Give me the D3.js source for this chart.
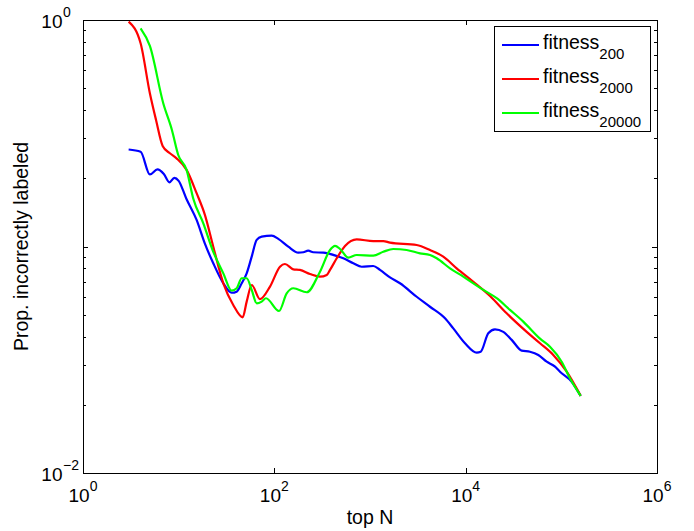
<!DOCTYPE html>
<html>
<head>
<meta charset="utf-8">
<script src="https://cdn.jsdelivr.net/npm/d3@7"></script>
<style>
body { margin: 0; background: #fff; }
svg { display: block; font-family: "Liberation Sans", Arial, sans-serif; }
</style>
</head>
<body>
<div id="chart"></div>
<script>
// top N vs proportion incorrectly labeled, three fitness runs
var fitness200 = [[3,0.268],[4,0.262],[5,0.208],[6,0.219],[7,0.209],[8,0.192],[9,0.201],[10,0.195],[12,0.163],[15.4,0.131],[18.8,0.103],[23,0.0843],[29.3,0.0688],[35.8,0.0625],[40.4,0.0632],[45.6,0.0688],[51.4,0.0761],[58,0.0902],[65.4,0.1069],[73.8,0.1105],[93.8,0.1116],[110,0.108],[140,0.0998],[178,0.0939],[201,0.0943],[226,0.0958],[255,0.0943],[325,0.0939],[449,0.0908],[526,0.0887],[669,0.0843],[819,0.0814],[1082,0.082],[1271,0.0788],[1618,0.0731],[2058,0.0688],[3076,0.060],[4236,0.0542],[6083,0.0482],[7427,0.0435],[9840,0.0374],[13040,0.034],[14350,0.0343],[17230,0.0414],[20260,0.0431],[24730,0.042],[30270,0.0387],[38500,0.0347],[47000,0.0343],[57450,0.0332],[70300,0.031],[85900,0.0295],[96800,0.028],[128300,0.0253],[159300,0.0219]];

var fitness2000 = [[3,0.983],[4,0.789],[5,0.475],[5.8,0.362],[6.8,0.278],[8.1,0.258],[9.5,0.245],[12.1,0.218],[15.4,0.172],[18.8,0.138],[23,0.0998],[29.3,0.0688],[37.2,0.0552],[46.7,0.0487],[51.4,0.0571],[58,0.0676],[70.8,0.0586],[90.1,0.0665],[114.6,0.0814],[129,0.0837],[158,0.0793],[185,0.0788],[236,0.0756],[300,0.0736],[353,0.0749],[382,0.0788],[449,0.0887],[548,0.1005],[726,0.1075],[1082,0.1057],[1377,0.1057],[1618,0.104],[3076,0.1015],[4236,0.0965],[5838,0.0902],[8053,0.0801],[12020,0.0699],[17960,0.0605],[26840,0.0507],[43450,0.042],[59840,0.0374],[82400,0.0332],[113800,0.028],[159300,0.0219]];

var fitness20000 = [[4,0.919],[5,0.768],[6.9,0.429],[8.5,0.327],[9.9,0.2535],[12.1,0.218],[14.2,0.163],[18.1,0.1266],[23,0.0948],[29.3,0.0761],[35.8,0.0638],[40.4,0.0654],[45.6,0.0724],[51.4,0.0724],[58,0.0643],[65.4,0.0561],[73.8,0.0571],[81.8,0.0591],[111.9,0.0519],[134.6,0.0621],[158,0.0654],[218,0.0628],[300,0.0774],[382,0.0965],[431,0.1007],[486,0.0975],[593,0.0893],[726,0.0917],[1082,0.0911],[1377,0.0948],[1752,0.0975],[2418,0.0965],[3331,0.0933],[4236,0.0917],[4980,0.0887],[6858,0.0801],[9440,0.0736],[15290,0.0643],[21100,0.0591],[29050,0.0525],[40000,0.0466],[59840,0.0392],[76100,0.0361],[100800,0.031],[123000,0.0262],[159300,0.0219]];

var seriesNames = ["200", "2000", "20000"];
var seriesColors = ["#0000ff", "#ff0000", "#00ff00"];
var xTickExp = [0, 2, 4, 6];
var yTickExp = [0, -2];

var width = 694, height = 531;
var plotLeft = 83, plotRight = 657, plotTop = 20, plotBottom = 473;

var svg = d3.select("#chart").append("svg")
	.attr("width", width)
	.attr("height", height);

var x = d3.scaleLog().domain([1, 1e6]).range([plotLeft, plotRight]);
var y = d3.scaleLog().domain([0.01, 1]).range([plotBottom, plotTop]);

svg.append("defs").append("clipPath").attr("id", "clip")
	.append("rect")
	.attr("x", plotLeft).attr("y", plotTop)
	.attr("width", plotRight - plotLeft).attr("height", plotBottom - plotTop);

//ticks, inside the box on all four sides
var ticks = svg.append("g").attr("stroke", "#000").attr("stroke-width", 1);
var xMajor = [1e2, 1e4];
xMajor.forEach(function(v) {
	var px = Math.round(x(v)) + 0.5;
	ticks.append("line").attr("x1", px).attr("x2", px).attr("y1", plotBottom).attr("y2", plotBottom - 5);
	ticks.append("line").attr("x1", px).attr("x2", px).attr("y1", plotTop).attr("y2", plotTop + 5);
});
var yTicks = [];
[0.01, 0.1].forEach(function(d) {
	for (var k = 1; k <= 9; k++) yTicks.push({v: d * k, major: k === 1});
});
yTicks.forEach(function(t) {
	if (t.v <= 0.01) return;
	var py = Math.round(y(t.v)) + 0.5;
	var len = t.major ? 5 : 3;
	ticks.append("line").attr("x1", plotLeft).attr("x2", plotLeft + len).attr("y1", py).attr("y2", py);
	ticks.append("line").attr("x1", plotRight).attr("x2", plotRight - len).attr("y1", py).attr("y2", py);
});

//box
svg.append("rect")
	.attr("x", plotLeft + 0.5).attr("y", plotTop + 0.5)
	.attr("width", plotRight - plotLeft).attr("height", plotBottom - plotTop)
	.attr("fill", "none")
	.attr("stroke", "#000")
	.attr("stroke-width", 1);

//lines
var line = d3.line()
	.x(function(d) { return x(d[0]); })
	.y(function(d) { return y(d[1]); })
	.curve(d3.curveMonotoneX);

var allSeries = [fitness200, fitness2000, fitness20000];
svg.append("g").attr("clip-path", "url(#clip)")
	.selectAll("path")
	.data(allSeries)
	.enter().append("path")
	.attr("d", line)
	.attr("fill", "none")
	.attr("stroke", function(d, i) { return seriesColors[i]; })
	.attr("stroke-width", 2.2)
	.attr("stroke-linejoin", "round");

//tick labels
var labels = svg.append("g").attr("fill", "#000").attr("font-size", 19);
xTickExp.forEach(function(e) {
	var t = labels.append("text")
		.attr("x", x(Math.pow(10, e)))
		.attr("y", 502)
		.attr("text-anchor", "middle");
	t.append("tspan").text("10");
	t.append("tspan").attr("dy", -11).attr("font-size", 14).text(e);
});
yTickExp.forEach(function(e) {
	var by = y(Math.pow(10, e)) + 8.3;
	labels.append("text")
		.attr("x", 62.5).attr("y", by)
		.attr("text-anchor", "end")
		.text("10");
	labels.append("text")
		.attr("x", 63).attr("y", by - 11)
		.attr("font-size", 14)
		.text(e < 0 ? "\u2212" + (-e) : e);
});

//axis titles
svg.append("text")
	.attr("x", (plotLeft + plotRight) / 2)
	.attr("y", 524)
	.attr("text-anchor", "middle")
	.attr("font-size", 19.5)
	.text("top N");

svg.append("text")
	.attr("transform", "translate(28," + ((plotTop + plotBottom) / 2) + ") rotate(-90)")
	.attr("text-anchor", "middle")
	.attr("font-size", 19.5)
	.text("Prop. incorrectly labeled");

//legend
var legend = svg.append("g");
legend.append("rect")
	.attr("x", 494.5).attr("y", 26.5)
	.attr("width", 156).attr("height", 105)
	.attr("fill", "#fff")
	.attr("stroke", "#000")
	.attr("stroke-width", 1);

var items = legend.selectAll(".legendItem")
	.data(seriesNames)
	.enter().append("g")
	.attr("class", "legendItem")
	.attr("transform", function(d, i) { return "translate(0," + (45 + i * 34) + ")"; });

items.append("line")
	.attr("x1", 502).attr("x2", 539)
	.attr("stroke", function(d, i) { return seriesColors[i]; })
	.attr("stroke-width", 2.2);

var itemText = items.append("text")
	.attr("x", 543)
	.attr("y", 3.5)
	.attr("font-size", 19.5);
itemText.append("tspan").text("fitness");
itemText.append("tspan").attr("dy", 10).attr("font-size", 15).text(function(d) { return d; });
</script>
</body>
</html>
